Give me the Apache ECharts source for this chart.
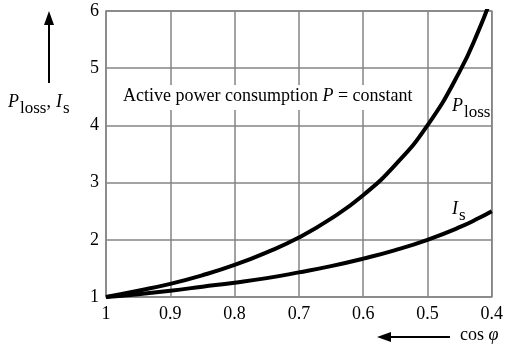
<!DOCTYPE html>
<html>
<head>
<meta charset="utf-8">
<script src="https://cdn.jsdelivr.net/npm/echarts@6/dist/echarts.min.js"></script>
<style>html,body{margin:0;padding:0;background:#fff}#c{width:506px;height:348px}</style>
</head>
<body>
<div id="c"></div>
<script>
const cosPhi = [1, 0.95, 0.9, 0.85, 0.8, 0.75, 0.7, 0.65, 0.6, 0.55, 0.5, 0.45, 0.42, 0.4];
const pLoss  = [1, 1.11, 1.23, 1.38, 1.56, 1.78, 2.04, 2.37, 2.78, 3.31, 4.0, 4.94, 5.67, 6.25];
const iS     = [1, 1.05, 1.11, 1.18, 1.25, 1.33, 1.43, 1.54, 1.67, 1.82, 2.0, 2.22, 2.38, 2.5];
const xTicks = ['1', '0.9', '0.8', '0.7', '0.6', '0.5', '0.4'];
const yTicks = ['1', '2', '3', '4', '5', '6'];

const FONT = "'Liberation Serif', 'Times New Roman', serif";
const GRAY = '#858585';
const chart = echarts.init(document.getElementById('c'));

const rich = {
  it: {fontFamily: FONT, fontStyle: 'italic', fontSize: 18, color: '#000', lineHeight: 20},
  it2: {fontFamily: FONT, fontStyle: 'italic', fontSize: 18, color: '#000', lineHeight: 20, padding: [0, 0, 0, 5]},
  sub: {fontFamily: FONT, fontSize: 17, color: '#000', padding: [12, 0, 0, 1], lineHeight: 20},
  n: {fontFamily: FONT, fontSize: 18, color: '#000', lineHeight: 20}
};

chart.setOption({
  animation: false,
  grid: {left: 106, right: 11, top: 11, bottom: 51, show: true, borderColor: GRAY, borderWidth: 1.5},
  xAxis: {
    type: 'value', min: 0.4, max: 1, interval: 0.1, inverse: true,
    axisLine: {show: false}, axisTick: {show: false},
    splitLine: {lineStyle: {color: GRAY, width: 1.5}},
    axisLabel: {
      margin: 8, color: '#000', fontFamily: FONT, fontSize: 18,
      formatter: v => xTicks[Math.round((1 - v) * 10)]
    }
  },
  yAxis: {
    type: 'value', min: 1, max: 6, interval: 1,
    axisLine: {show: false}, axisTick: {show: false},
    splitLine: {lineStyle: {color: GRAY, width: 1.5}},
    axisLabel: {margin: 7, color: '#000', fontFamily: FONT, fontSize: 18, formatter: v => yTicks[Math.round(v) - 1]}
  },
  series: [
    {type: 'line', data: cosPhi.map((x, i) => [x, pLoss[i]]), smooth: true, showSymbol: false, clip: true,
     lineStyle: {color: '#000', width: 4}, z: 5},
    {type: 'line', data: cosPhi.map((x, i) => [x, iS[i]]), smooth: true, showSymbol: false, clip: true,
     lineStyle: {color: '#000', width: 4}, z: 5}
  ],
  graphic: [
    {type: 'rect', shape: {x: 117, y: 85, width: 306, height: 25}, style: {fill: '#fff'}, z: 3},
    {type: 'text', left: 123, top: 87, z: 4,
     style: {text: '{n|Active power consumption }{it|P}{n| = constant}', rich: rich}},
    {type: 'text', left: 452, top: 92, z: 4,
     style: {text: '{it|P}{sub|loss}', rich: rich}},
    {type: 'text', left: 452, top: 195, z: 4,
     style: {text: '{it|I}{sub|s}', rich: rich}},
    {type: 'text', left: 8, top: 88, z: 4,
     style: {text: '{it|P}{sub|loss}{n|,}{it2|I}{sub|s}', rich: rich}},
    {type: 'line', shape: {x1: 49, y1: 83, x2: 49, y2: 22}, style: {stroke: '#000', lineWidth: 2}},
    {type: 'polygon', shape: {points: [[49, 11], [44, 25], [54, 25]]}, style: {fill: '#000'}},
    {type: 'line', shape: {x1: 450, y1: 337, x2: 388, y2: 337}, style: {stroke: '#000', lineWidth: 2}},
    {type: 'polygon', shape: {points: [[377, 337], [391, 332], [391, 342]]}, style: {fill: '#000'}},
    {type: 'text', left: 460, top: 326, style: {text: '{n|cos }{it|φ}', rich: rich}}
  ]
});
</script>
</body>
</html>
